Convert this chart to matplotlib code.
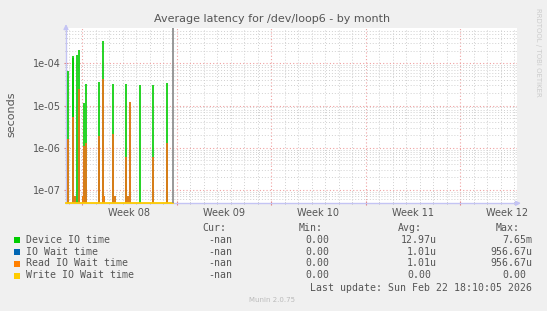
import pandas as pd
import numpy as np
import matplotlib
matplotlib.use('Agg')
import matplotlib.pyplot as plt
import matplotlib.dates as mdates
from matplotlib.patches import Rectangle

# DATA
# time window of the graph (munin "month" view)
start = pd.Timestamp('2026-02-14 19:30')
end = pd.Timestamp('2026-03-20 05:00')
now = pd.Timestamp('2026-02-22 18:10')

dev_times = ['2026-02-14 23:40', '2026-02-15 07:10', '2026-02-15 08:30', '2026-02-15 15:40',
             '2026-02-15 18:40', '2026-02-16 04:05', '2026-02-16 07:05', '2026-02-17 06:45',
             '2026-02-17 12:45', '2026-02-18 07:40', '2026-02-19 06:45', '2026-02-20 07:40',
             '2026-02-21 06:45', '2026-02-22 07:40']
dev_values = [6.6e-5, 1.35e-4, 1.5e-4, 1.6e-4, 2.1e-4, 1.15e-5, 3.2e-5, 3.6e-5,
              3.4e-4, 3.2e-5, 3.2e-5, 3.1e-5, 3.1e-5, 3.4e-5]

read_times = ['2026-02-14 23:40', '2026-02-15 08:30', '2026-02-15 11:35', '2026-02-15 18:40',
              '2026-02-16 01:45', '2026-02-16 04:05', '2026-02-16 07:05', '2026-02-17 06:45',
              '2026-02-17 12:45', '2026-02-17 15:10', '2026-02-18 07:40', '2026-02-18 09:45',
              '2026-02-19 06:45', '2026-02-19 09:45', '2026-02-19 12:50', '2026-02-21 06:45',
              '2026-02-22 07:40']
read_values = [1.6e-6, 5.3e-6, 7e-8, 2.5e-5, 7e-8, 1.1e-6, 1.3e-6, 1.9e-6,
               4.2e-5, 7e-8, 2.1e-6, 7e-8, 6e-7, 7e-8, 1.2e-5, 6e-7, 1.3e-6]

# IO wait is the same as read IO wait, write IO wait is zero all along
iowait_times = read_times
iowait_values = read_values
write_times = [str(start), str(now)]
write_values = [0.0, 0.0]

legend_names = ['Device IO time', 'IO Wait time', 'Read IO Wait time', 'Write IO Wait time']
legend_colors = ['#00CC00', '#0066B3', '#FF8000', '#FFCC00']
cur_vals = ['-nan', '-nan', '-nan', '-nan']
min_vals = ['0.00', '0.00', '0.00', '0.00']
avg_vals = ['12.97u', '1.01u', '1.01u', '0.00']
max_vals = ['7.65m', '956.67u', '956.67u', '0.00']

ytick_vals = [1e-7, 1e-6, 1e-5, 1e-4]
ytick_labels = ['1e-07', '1e-06', '1e-05', '1e-04']
ylo, yhi = 4.8e-8, 6.8e-4

W, H = 547, 311
fig = plt.figure(figsize=(W / 100, H / 100), dpi=100, facecolor='#F0F0F0')
ax = fig.add_axes([66 / W, 1 - 203.3 / H, 451 / W, 175 / H])
ax.set_facecolor('white')

ax.set_yscale('log')
ax.set_ylim(ylo, yhi)
ax.set_xlim(start, end)

# spikes: each sample drawn as a line from the bottom up to its value
ax.vlines(pd.to_datetime(dev_times), ylo * 0.5, dev_values, color=legend_colors[0], linewidth=1.2, zorder=3)
ax.vlines(pd.to_datetime(iowait_times), ylo * 0.5, iowait_values, color=legend_colors[1], linewidth=1.2, zorder=4)
ax.vlines(pd.to_datetime(read_times), ylo * 0.5, read_values, color=legend_colors[2], linewidth=1.2, zorder=5)
ax.plot(pd.to_datetime(write_times), np.maximum(write_values, ylo), color=legend_colors[3],
        linewidth=1.3, zorder=6, clip_on=False)

# "now" line
ax.axvline(now, color='#888888', linewidth=1.2, zorder=7)

# grid
ax.xaxis.set_major_locator(mdates.WeekdayLocator(byweekday=mdates.MO))
ax.xaxis.set_minor_locator(mdates.DayLocator())
ax.xaxis.set_major_formatter(plt.NullFormatter())
ax.set_yticks(ytick_vals)
ax.set_yticklabels(ytick_labels)
ax.yaxis.set_minor_locator(matplotlib.ticker.LogLocator(base=10, subs=np.arange(2, 10)))
ax.yaxis.set_minor_formatter(plt.NullFormatter())

ax.grid(which='major', color='#F0A0A0', linestyle=(0, (1, 2)), linewidth=0.8)
ax.grid(which='minor', color='#D0D0D0', linestyle=(0, (1, 2)), linewidth=0.7)
ax.set_axisbelow(True)

ax.tick_params(axis='both', which='major', direction='inout', length=3, color='#E08080',
               labelsize=7, labelcolor='#555555', pad=2)
ax.tick_params(axis='both', which='minor', direction='inout', length=2, color='#AAAAAA')

for side in ['top', 'right']:
    ax.spines[side].set_visible(False)
for side in ['left', 'bottom']:
    ax.spines[side].set_color('#C4C4F4')
    ax.spines[side].set_linewidth(1)

# axis arrows
ax.annotate('', xy=(0, 1.04), xytext=(0, 0.98), xycoords='axes fraction',
            arrowprops=dict(arrowstyle='-|>', color='#C4C4F4', lw=1, mutation_scale=7), annotation_clip=False)
ax.annotate('', xy=(1.015, 0), xytext=(0.99, 0), xycoords='axes fraction',
            arrowprops=dict(arrowstyle='-|>', color='#C4C4F4', lw=1, mutation_scale=7), annotation_clip=False)

# week labels, centred in the middle of each week
weeks = pd.date_range('2026-02-16', '2026-03-16', freq='7D')
for wk in weeks:
    mid = wk + pd.Timedelta(hours=84)
    ax.text(mid, -0.054, 'Week ' + wk.strftime('%V'), transform=ax.get_xaxis_transform(),
            ha='center', va='center', fontsize=7, color='#555555')

# titles
fig.text(272 / W, 1 - 19 / H, 'Average latency for /dev/loop6 - by month', ha='center', va='center',
         fontsize=8, color='#555555')
fig.text(11 / W, 1 - 114 / H, 'seconds', rotation=90, ha='center', va='center', fontsize=8, color='#555555')
fig.text(538 / W, 1 - 52 / H, 'RRDTOOL / TOBI OETIKER', rotation=270, ha='center', va='center',
         fontsize=5, color='#CCCCCC')

# legend table
mono = 'DejaVu Sans Mono'
fs = 7.1
tc = '#555555'
hy = 1 - 228.3 / H
fig.text(226 / W, hy, 'Cur:', ha='right', va='center', family=mono, fontsize=fs, color=tc)
fig.text(323 / W, hy, 'Min:', ha='right', va='center', family=mono, fontsize=fs, color=tc)
fig.text(422 / W, hy, 'Avg:', ha='right', va='center', family=mono, fontsize=fs, color=tc)
fig.text(520 / W, hy, 'Max:', ha='right', va='center', family=mono, fontsize=fs, color=tc)

row_y = [240, 252, 263.5, 275.5]
for i, name in enumerate(legend_names):
    y = 1 - row_y[i] / H
    fig.patches.append(Rectangle((14 / W, y - 3 / H), 6 / W, 6 / H, transform=fig.transFigure,
                                 facecolor=legend_colors[i], edgecolor='none'))
    fig.text(26 / W, y, name, ha='left', va='center', family=mono, fontsize=fs, color=tc)
    fig.text(232 / W, y, cur_vals[i], ha='right', va='center', family=mono, fontsize=fs, color=tc)
    fig.text(329 / W, y, min_vals[i], ha='right', va='center', family=mono, fontsize=fs, color=tc)
    a = avg_vals[i]
    fig.text((437 if a[-1].isalpha() else 431) / W, y, a, ha='right', va='center', family=mono, fontsize=fs, color=tc)
    m = max_vals[i]
    fig.text((532 if m[-1].isalpha() else 526) / W, y, m, ha='right', va='center', family=mono, fontsize=fs, color=tc)

fig.text(532 / W, 1 - 287.7 / H, 'Last update: Sun Feb 22 18:10:05 2026', ha='right', va='center',
         family=mono, fontsize=fs, color=tc)
fig.text(272 / W, 1 - 300 / H, 'Munin 2.0.75', ha='center', va='center', fontsize=5, color='#BBBBBB')

plt.savefig('out.png', dpi=100, facecolor=fig.get_facecolor())
